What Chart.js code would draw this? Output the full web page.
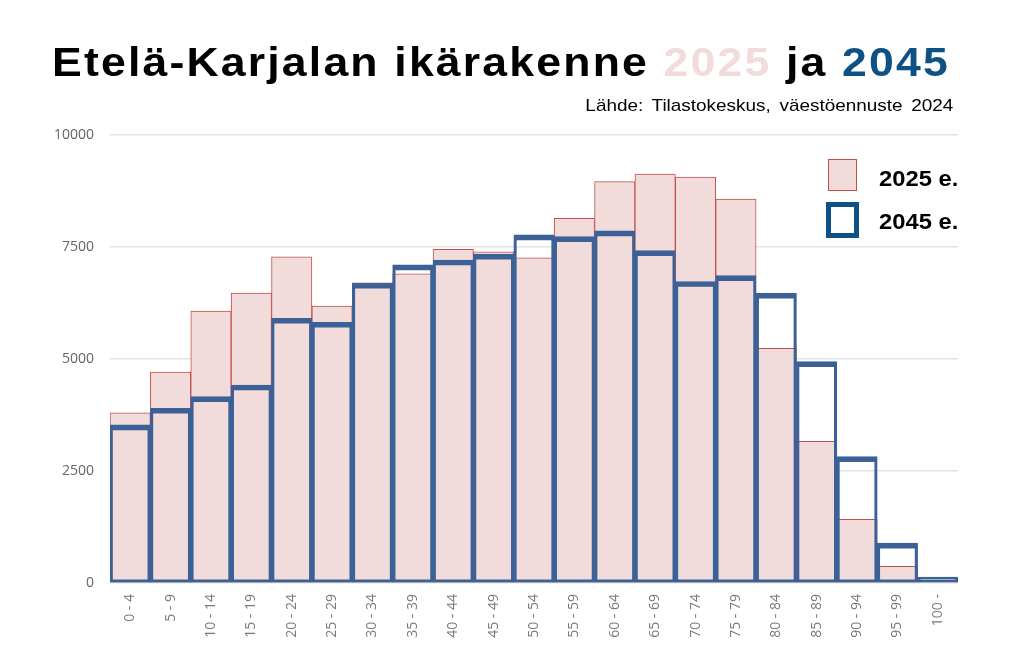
<!DOCTYPE html>
<html>
<head>
<meta charset="utf-8">
<script src="https://cdn.jsdelivr.net/npm/chart.js@4.4.0/dist/chart.umd.min.js"></script>
<style>
  html, body { margin: 0; padding: 0; background: #fff; }
  #wrap { position: relative; width: 1024px; height: 664px; overflow: hidden; }
  #kuvaaja { position: absolute; left: 0; top: 0; }
  #otsikko {
    position: absolute; left: 52px; top: 39px; white-space: nowrap;
    font-family: "Liberation Sans", Arial, sans-serif; font-weight: bold; font-size: 41px;
    letter-spacing: 2px; color: #000; transform-origin: left top;
  }
  #lahde {
    position: absolute; right: 71px; top: 96px; white-space: nowrap;
    font-family: "Liberation Sans", Arial, sans-serif; font-size: 17px; word-spacing: 3px;
    color: #000; transform-origin: right top;
  }
  .selite { position: absolute; font-family: "Liberation Sans", Arial, sans-serif; font-weight: bold; font-size: 22px; color: #000; transform: scaleX(1.08); transform-origin: left top; }
  .laatikko { position: absolute; box-sizing: border-box; }
</style>
</head>
<body>
<div id="wrap">
  <canvas id="kuvaaja" width="1024" height="664"></canvas>
  <div id="otsikko">Etelä-Karjalan ikärakenne <span style="color:#f2dcdb">2025</span> ja <span style="color:#0e5186">2045</span></div>
  <div id="lahde">Lähde: Tilastokeskus, väestöennuste 2024</div>
  <div class="laatikko" style="left:828px;top:159px;width:29px;height:32px;background:#f2dcdb;border:1px solid #c0504d;"></div>
  <div class="selite" style="left:879px;top:166px;">2025 e.</div>
  <div class="laatikko" style="left:826px;top:202px;width:33px;height:36px;border:5px solid #0e5186;"></div>
  <div class="selite" style="left:879px;top:209px;">2045 e.</div>
</div>
<script>
// ==============================
// DATA
// ==============================
const ikaryhmat = ["0 - 4", "5 - 9", "10 - 14", "15 - 19", "20 - 24", "25 - 29", "30 - 34",
  "35 - 39", "40 - 44", "45 - 49", "50 - 54", "55 - 59", "60 - 64", "65 - 69", "70 - 74",
  "75 - 79", "80 - 84", "85 - 89", "90 - 94", "95 - 99", "100 -"];

const vaesto2025 = [3800, 4710, 6070, 6470, 7280, 6180, 6700, 6900, 7450, 7390, 7260,
  8140, 8960, 9130, 9060, 8570, 5240, 3160, 1420, 370, 30];

const vaesto2045 = [3530, 3900, 4160, 4420, 5910, 5820, 6690, 7100, 7210, 7340, 7770,
  7730, 7860, 7420, 6730, 6860, 6470, 4940, 2820, 890, 130];

const yTikit = [0, 2500, 5000, 7500, 10000];

// ==============================
// OTSIKOT: venytetään leveyteen kuten alkuperäisessä
// ==============================
function venyta(id, leveys) {
  const el = document.getElementById(id);
  const w = el.getBoundingClientRect().width;
  el.style.transform = "scaleX(" + (leveys / w) + ")";
}
venyta("otsikko", 898);
venyta("lahde", 368);

// ==============================
// KUVAAJA
// ==============================
const ctx = document.getElementById("kuvaaja").getContext("2d");

new Chart(ctx, {
  type: "bar",
  data: {
    labels: ikaryhmat,
    datasets: [
      {
        label: "2025 e.",
        data: vaesto2025,
        backgroundColor: "#f2dcdb",
        borderColor: "#c0504d",
        borderWidth: 1,
        borderSkipped: false,
        grouped: false,
        order: 1,
        barPercentage: 1,
        categoryPercentage: 1
      },
      {
        label: "2045 e.",
        data: vaesto2045,
        backgroundColor: "rgba(0,0,0,0)",
        borderColor: "#3b6196",
        borderWidth: { top: 5, left: 2.5, right: 2.5, bottom: 2.5 },
        borderSkipped: false,
        grouped: false,
        order: 0,
        barPercentage: 1,
        categoryPercentage: 1
      }
    ]
  },
  options: {
    responsive: false,
    animation: false,
    layout: { padding: { top: 135, right: 66, left: 0, bottom: 0 } },
    plugins: {
      legend: { display: false },
      title: { display: false },
      tooltip: { enabled: false }
    },
    scales: {
      x: {
        grid: { display: false },
        border: { display: false },
        ticks: {
          color: "#7a7a7a",
          font: { family: "Open Sans", size: 14 },
          minRotation: 90,
          maxRotation: 90,
          autoSkip: false,
          padding: 3
        },
        afterFit: scale => { scale.height = 81; }
      },
      y: {
        min: 0,
        max: 10000,
        afterBuildTicks: scale => { scale.ticks = yTikit.map(v => ({ value: v })); },
        grid: { color: "#e3e3e3", lineWidth: 1.5, drawTicks: false },
        border: { display: false },
        ticks: {
          color: "#666",
          font: { family: "Open Sans", size: 14 },
          padding: 16,
          callback: v => String(v)
        },
        afterFit: scale => { scale.width = 110; }
      }
    }
  }
});
</script>
</body>
</html>
